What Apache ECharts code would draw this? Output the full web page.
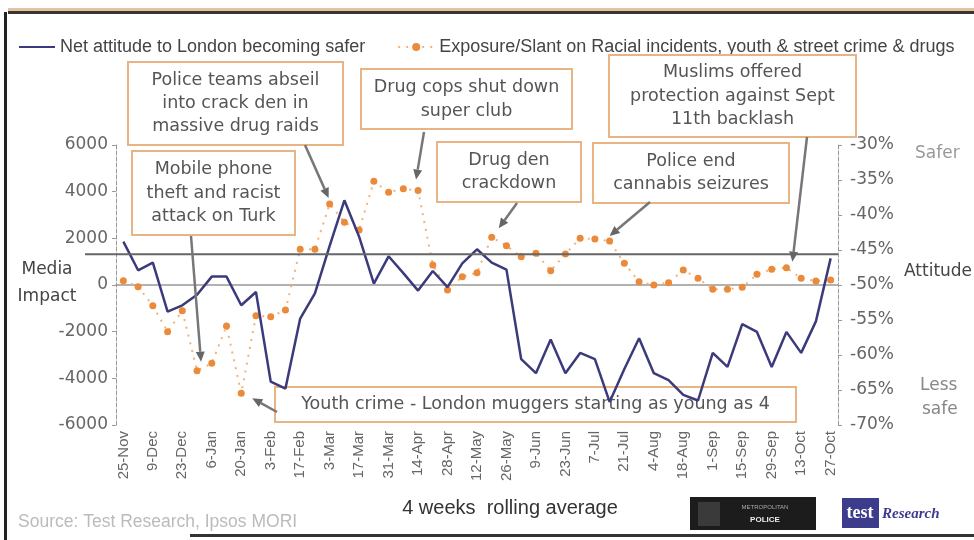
<!DOCTYPE html>
<html><head><meta charset="utf-8">
<script src="https://cdn.jsdelivr.net/npm/echarts@6/dist/echarts.min.js"></script>
<style>html,body{margin:0;padding:0;background:#fff}#c{width:974px;height:540px}</style>
</head><body><div id="c"></div>
<script>
const weeks = ['25-Nov','2-Dec','9-Dec','16-Dec','23-Dec','30-Dec','6-Jan','13-Jan','20-Jan','27-Jan','3-Feb','10-Feb','17-Feb','24-Feb','3-Mar','10-Mar','17-Mar','24-Mar','31-Mar','7-Apr','14-Apr','21-Apr','28-Apr','5-May','12-May','19-May','26-May','2-Jun','9-Jun','16-Jun','23-Jun','30-Jun','7-Jul','14-Jul','21-Jul','28-Jul','4-Aug','11-Aug','18-Aug','25-Aug','1-Sep','8-Sep','15-Sep','22-Sep','29-Sep','6-Oct','13-Oct','20-Oct','27-Oct'];
// Net attitude to London becoming safer (%), right axis
const attitude = [-43.8,-47.9,-46.8,-53.8,-52.9,-51.4,-48.8,-48.8,-52.9,-51.0,-63.8,-64.8,-54.8,-51.2,-44.4,-37.9,-43.1,-49.8,-45.9,-48.3,-50.8,-48.0,-50.3,-46.9,-44.9,-46.8,-47.8,-60.6,-62.6,-57.8,-62.6,-59.7,-60.6,-66.7,-62.0,-57.6,-62.6,-63.6,-65.7,-66.5,-59.7,-61.7,-55.6,-56.7,-61.7,-56.7,-59.7,-55.2,-46.2];
// Exposure/Slant media impact, left axis
const media = [184,-73,-887,-2001,-1101,-3673,-3356,-1757,-4641,-1316,-1359,-1071,1530,1530,3471,2687,2357,4444,3973,4127,4050,857,-214,356,527,2044,1684,1213,1359,613,1329,2001,1971,1886,930,141,0,99,643,287,-184,-184,-99,459,673,741,287,171,214];
const leftTicks = [-6000,-4000,-2000,0,2000,4000,6000];
const rightTicks = ['-70%','-65%','-60%','-55%','-50%','-45%','-40%','-35%','-30%'];
const attitudeLine = -45.6;
const seriesNames = ['Net attitude to London becoming safer','Exposure/Slant on Racial incidents, youth & street crime & drugs'];

const FF = 'Liberation Sans, Arial, sans-serif';
const DV = 'DejaVu Sans, sans-serif';
const chart = echarts.init(document.getElementById('c'));
chart.setOption({
  animation:false,
  backgroundColor:'#fff',
  legend:{left:13,top:33,itemWidth:36,itemHeight:10,itemGap:32,
    textStyle:{fontFamily:FF,fontSize:18,color:'#444'},
    data:[{name:seriesNames[0],itemStyle:{opacity:0}},seriesNames[1]]},
  grid:{left:116,right:136,top:145,bottom:115,containLabel:false},
  xAxis:{type:'category',data:weeks,boundaryGap:true,
    axisLine:{lineStyle:{color:'#999',width:1.5}},axisTick:{show:false},
    axisLabel:{rotate:90,interval:1,fontFamily:FF,fontSize:15,color:'#666',margin:6}},
  yAxis:[
    {type:'value',min:leftTicks[0],max:leftTicks[leftTicks.length-1],interval:2000,
      axisLine:{show:true,lineStyle:{color:'#999',type:'dashed'}},
      axisTick:{show:true,length:4,lineStyle:{color:'#999'}},splitLine:{show:false},
      axisLabel:{fontFamily:DV,fontSize:17,color:'#666',margin:8,formatter:v=>String(v)}},
    {type:'value',position:'right',min:-70,max:-30,interval:5,
      axisLine:{show:true,lineStyle:{color:'#999',type:'dashed'}},
      axisTick:{show:true,length:4,lineStyle:{color:'#999'}},splitLine:{show:false},
      axisLabel:{fontFamily:DV,fontSize:17,color:'#666',margin:12,
        formatter:v=>rightTicks[Math.round((v+70)/5)]}}
  ],
  series:[
    {name:seriesNames[0],type:'line',yAxisIndex:1,data:attitude,symbol:'none',z:4,
      lineStyle:{color:'#3b3b7c',width:2.5},itemStyle:{color:'#3b3b7c'}},
    {name:seriesNames[1],type:'line',yAxisIndex:0,data:media,symbol:'circle',symbolSize:7,z:3,
      itemStyle:{color:'#ea8a3a'},lineStyle:{color:'#f3b27a',width:2,type:[2,6]}}
  ]
});

const g = [];
// frame
g.push({type:'rect',shape:{x:8,y:8,width:966,height:3},style:{fill:'#e2c4a4'},z:1});
g.push({type:'rect',shape:{x:8,y:11,width:966,height:3},style:{fill:'#3a3530'},z:1});
g.push({type:'rect',shape:{x:4,y:12,width:3,height:528},style:{fill:'#222'},z:1});
g.push({type:'rect',shape:{x:190,y:534,width:784,height:3},style:{fill:'#333'},z:1});

// reference line (attitude)
const refY = chart.convertToPixel({yAxisIndex:1}, attitudeLine);
g.push({type:'line',shape:{x1:85,y1:refY,x2:838,y2:refY},style:{stroke:'#666',lineWidth:2},z:5});

// boxes
function box(x,y,w,h,text,lh,z){
  g.push({type:'rect',shape:{x:x,y:y,width:w,height:h},style:{fill:'#fff',stroke:'#e9b483',lineWidth:2},z:z});
  g.push({type:'text',style:{text:text,x:x+w/2,y:y+h/2,align:'center',verticalAlign:'middle',
    fontFamily:DV,fontSize:17.5,lineHeight:lh,fill:'#555'},z:z+1});
}
box(128,62,215,83,'Police teams abseil\ninto crack den in\nmassive drug raids',23,10);
box(132,151,163,84,'Mobile phone\ntheft and racist\nattack on Turk',23.5,10);
box(361,69,211,60,'Drug cops shut down\nsuper club',24,10);
box(437,142,144,60,'Drug den\ncrackdown',22.5,10);
box(593,143,196,60,'Police end\ncannabis seizures',22.5,10);
box(609,55,247,82,'Muslims offered\nprotection against Sept\n11th backlash',23.5,10);
box(275,387,521,35,'Youth crime - London muggers starting as young as 4',20,1);

// arrows: start pixel, target data index (media series), tip offset
function arrow(sx,sy,idx,ox,oy){
  const p = chart.convertToPixel({xAxisIndex:0,yAxisIndex:0},[idx,media[idx]]);
  const tx=p[0]+ox, ty=p[1]+oy;
  const dx=tx-sx, dy=ty-sy, L=Math.sqrt(dx*dx+dy*dy), ux=dx/L, uy=dy/L;
  const hl=10, hw=4.5;
  const bx=tx-ux*hl, by=ty-uy*hl;
  g.push({type:'line',shape:{x1:sx,y1:sy,x2:bx,y2:by},style:{stroke:'#777',lineWidth:2.5},z:12});
  g.push({type:'polygon',shape:{points:[[tx,ty],[bx-uy*hw,by+ux*hw],[bx+uy*hw,by-ux*hw]]},style:{fill:'#666'},z:12});
}
arrow(305,145,14,-1,-6);
arrow(191,236,5,4,-9);
arrow(424,132,20,-2,-11);
arrow(517,203,25,7,-9);
arrow(650,202,33,0,-5);
arrow(807,137,45,6,-6);
arrow(277,412,8,11,5);

// axis side labels
function txt(t,x,y,size,fill,align,extra){
  g.push({type:'text',style:Object.assign({text:t,x:x,y:y,align:align||'left',verticalAlign:'middle',
    fontFamily:FF,fontSize:size,fill:fill},extra||{}),z:6});
}
txt('Media',47,270,17,'#444','center',{fontFamily:DV});
txt('Impact',47,297,17,'#444','center',{fontFamily:DV});
txt('Safer',915,154,17,'#999',null,{fontFamily:DV});
txt('Attitude',904,272,17,'#444',null,{fontFamily:DV});
txt('Less',920,386,17,'#888',null,{fontFamily:DV});
txt('safe',922,410,17,'#888',null,{fontFamily:DV});
txt('4 weeks  rolling average',510,508,20,'#333','center');
txt('Source: Test Research, Ipsos MORI',18,522,17.5,'#bbb');

// logos
g.push({type:'rect',shape:{x:690,y:497,width:126,height:33},style:{fill:'#1c1c1c'},z:6});
g.push({type:'rect',shape:{x:698,y:502,width:22,height:24},style:{fill:'#3a3a3a'},z:7});
txt('METROPOLITAN',765,507,6,'#aaa','center');
txt('POLICE',765,520,8,'#eee','center',{fontWeight:'bold'});
g.push({type:'rect',shape:{x:842,y:498,width:37,height:30},style:{fill:'#3d3c8c'},z:6});
txt('test',860,513,18,'#fff','center',{fontFamily:'Liberation Serif, serif',fontWeight:'bold'});
txt('Research',882,514,15,'#3d3c8c','left',{fontFamily:'Liberation Serif, serif',fontWeight:'bold',fontStyle:'italic'});

chart.setOption({graphic:g});
</script></body></html>
